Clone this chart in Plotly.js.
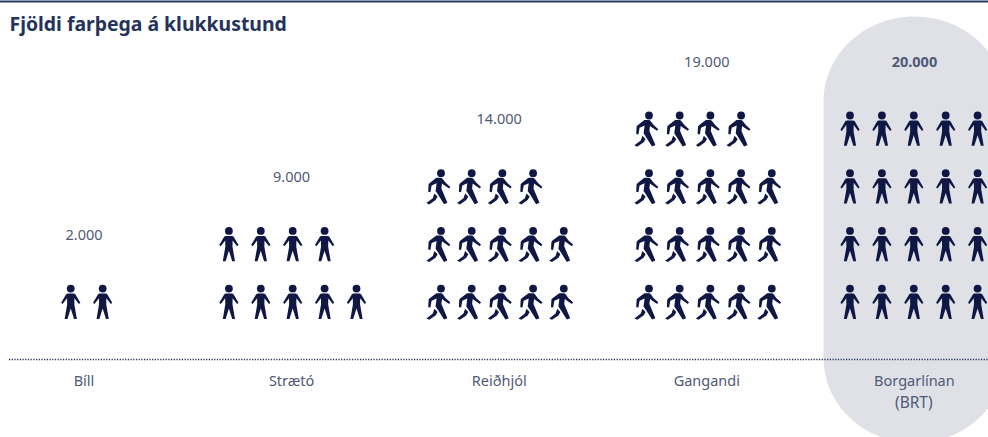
<!DOCTYPE html>
<html lang="is">
<head>
<meta charset="utf-8">
<script src="https://cdn.plot.ly/plotly-3.0.1.min.js"></script>
<style>html,body{margin:0;padding:0;background:#fff}#chart{width:988px;height:437px}</style>
</head>
<body>
<div id="chart"></div>
<script>
// ---- data ----
const chartTitle = "Fjöldi farþega á klukkustund";
const categories = ["Bíll", "Strætó", "Reiðhjól", "Gangandi", "Borgarlínan"];
const passengers = [2000, 9000, 14000, 19000, 20000];
const valueLabels = ["2.000", "9.000", "14.000", "19.000", "20.000"];
const iconKinds = ["stand", "stand", "walk", "walk", "stand"];
const secondLine = "(BRT)";
const perIcon = 1000;
const perRow = 5;

// ---- pixel helpers (figure is 988x437, plot area 988x359) ----
const W = 988, H = 437, PLOT_H = 359;
const xPx0 = 84, xPitch = 207.6;
const xRange = [(0 - xPx0) / xPitch, (W - xPx0) / xPitch];
const rowPx0 = 288.6, rowPitch = 57.7;
const yRange = [(rowPx0 - PLOT_H) / rowPitch, rowPx0 / rowPitch];
const NAVY = "#0f1745", TEXT = "#4f5978", TITLE = "#25325c";
const FONT = "'Noto Sans', sans-serif";

// icon body outlines: pixel offsets from the head centre, y downwards
const bodies = {
  stand: [[[-3.2,5],[3.2,5],[4.6,5.6],[9.6,14.2],[8.2,15.4],[3.7,9.6],[3.6,16],[6.1,30.3],[3.3,30.3],[0,19.8],
           [-3.3,30.3],[-6.1,30.3],[-3.6,16],[-3.7,9.6],[-8.2,15.4],[-9.6,14.2],[-4.6,5.6]]],
  walk: [[[-4.6,4.6],[0.4,4.6],[1.8,5.7],[4.7,9.6],[9.3,13.7],[8.1,15.3],[3,11.9],[1,10.4],[0.4,15.4],[6.4,29.6],
          [3,31],[-3,21.4],[-5.4,17.8],[-4.4,10],[-9.4,12.2],[-10.6,19],[-12.8,18.6],[-12.4,11],[-11.3,9.7]],
         [[-6.6,20.2],[-8.2,25],[-14.6,29.8],[-11.8,31.2],[-5.4,26.8],[-3.4,23.4]]]
};
const pitch = { stand: 31.9, walk: 30.7 };
const groupShift = [2.7, 1.1, 3.2, 3.6, -0.6];

const traces = [], shapes = [];

// highlighted column behind Borgarlínan
const px = v => v / W, py = v => (PLOT_H - v) / PLOT_H;
const capX = 914.5, capRx = 91, capTop = 16.5, capRy = 85, capBot = 443, k = 0.5523;
const capPath = [
  "M", px(capX - capRx), py(capTop + capRy),
  "C", px(capX - capRx), py(capTop + capRy - k * capRy), px(capX - k * capRx), py(capTop), px(capX), py(capTop),
  "C", px(capX + k * capRx), py(capTop), px(capX + capRx), py(capTop + capRy - k * capRy), px(capX + capRx), py(capTop + capRy),
  "L", px(capX + capRx), py(capBot - capRy),
  "C", px(capX + capRx), py(capBot - capRy + k * capRy), px(capX + k * capRx), py(capBot), px(capX), py(capBot),
  "C", px(capX - k * capRx), py(capBot), px(capX - capRx), py(capBot - capRy + k * capRy), px(capX - capRx), py(capBot - capRy), "Z"
].join(" ");
shapes.push({ type: "path", xref: "paper", yref: "paper", path: capPath, fillcolor: "#dfe1e6", line: { width: 0 }, layer: "below" });

// top rule and dotted baseline
shapes.push({ type: "line", xref: "paper", yref: "paper", x0: 0, x1: 1, y0: py(1.5), y1: py(1.5), line: { color: "#2b3a66", width: 2 } });
shapes.push({ type: "line", xref: "paper", yref: "paper", x0: px(9), x1: 1, y0: py(359.5), y1: py(359.5), line: { color: "#1e2b55", width: 1.5, dash: "1.2px,1.5px" } });

categories.forEach((cat, c) => {
  const n = passengers[c] / perIcon;
  const kind = iconKinds[c];
  const across = Math.min(n, perRow);
  const heads = { x: [], y: [] };
  const step = pitch[kind] / xPitch;
  for (let i = 0; i < n; i++) {
    const row = Math.floor(i / perRow), slot = i % perRow;
    const xv = c + groupShift[c] / xPitch + (slot - (across - 1) / 2) * step;
    heads.x.push(xv); heads.y.push(row);
    const path = bodies[kind].map(poly =>
      poly.map((p, j) => (j ? "L" : "M") + p[0] + "," + (-p[1])).join(" ") + " Z").join(" ");
    shapes.push({ type: "path", xref: "x", yref: "y", xsizemode: "pixel", ysizemode: "pixel",
      xanchor: xv, yanchor: row, path: path, fillcolor: NAVY, line: { width: 0 } });
  }
  traces.push({ type: "scatter", mode: "markers", name: cat, x: heads.x, y: heads.y, hoverinfo: "skip",
    cliponaxis: true, marker: { symbol: "circle", size: 7.8, color: NAVY, line: { width: 0 } } });
  traces.push({ type: "scatter", mode: "text", name: cat + " gildi", x: [c], y: [Math.ceil(n / perRow) - 1 + 0.91],
    text: [valueLabels[c]], textposition: "middle center", hoverinfo: "skip", cliponaxis: false,
    textfont: { family: FONT, size: 14.5, color: TEXT, weight: c === 4 ? 700 : 400 } });
});

const layout = {
  width: W, height: H,
  margin: { l: 0, r: 0, t: 0, b: H - PLOT_H, pad: 0 },
  paper_bgcolor: "#fff", plot_bgcolor: "rgba(0,0,0,0)",
  showlegend: false,
  title: { text: chartTitle, x: 9.5 / W, xanchor: "left", xref: "paper", y: 1 - 24.5 / H, yanchor: "middle", yref: "container",
    font: { family: FONT, size: 19.4, weight: 700, color: TITLE } },
  xaxis: { range: xRange, tickmode: "array", tickvals: categories.map((_, i) => i), ticktext: categories,
    ticks: "outside", ticklen: 9, tickcolor: "rgba(0,0,0,0)", showgrid: false, zeroline: false, showline: false, fixedrange: true,
    tickfont: { family: FONT, size: 14.5, color: TEXT }, automargin: false },
  yaxis: { range: yRange, showgrid: false, zeroline: false, showline: false, showticklabels: false, ticks: "", fixedrange: true, automargin: false },
  shapes: shapes,
  annotations: [{ xref: "x", yref: "paper", x: 4, y: py(401.5), text: secondLine, showarrow: false, xanchor: "center", yanchor: "middle",
    font: { family: FONT, size: 15.5, color: TEXT } }]
};
Plotly.newPlot("chart", traces, layout, { displayModeBar: false, staticPlot: true });
</script>
</body>
</html>
